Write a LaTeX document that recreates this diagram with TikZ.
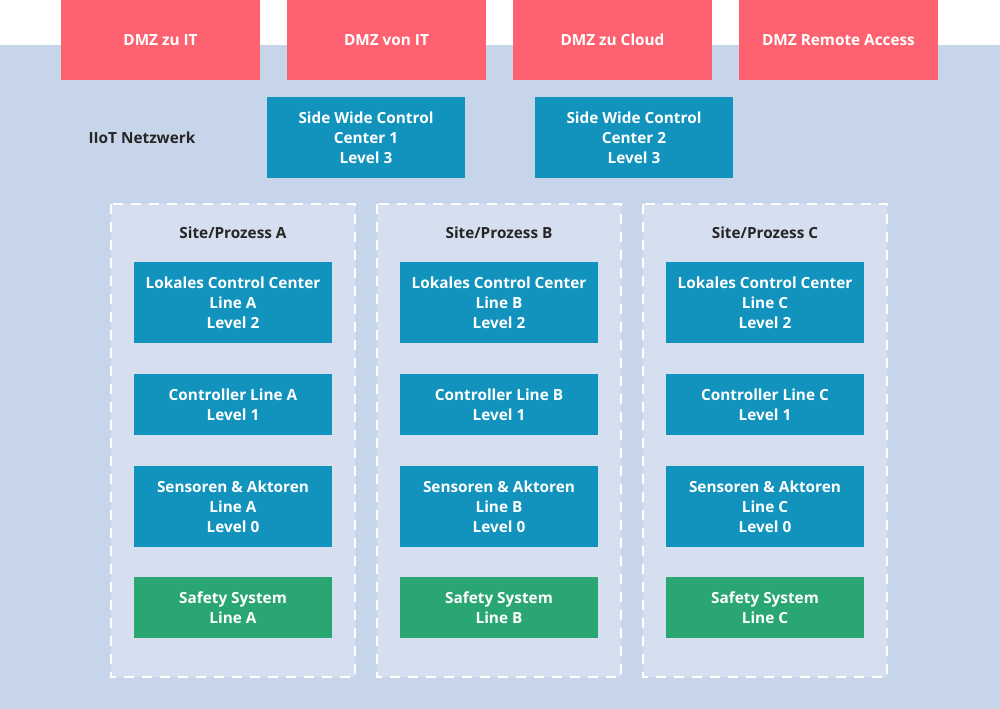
\documentclass[tikz,border=0pt]{standalone}
\usepackage{fontspec}
\setmainfont{Open Sans}
\definecolor{dmzred}{HTML}{FE6270}
\definecolor{boxblue}{HTML}{1193BE}
\definecolor{safegreen}{HTML}{2AA673}
\definecolor{netbg}{HTML}{C7D5EA}
\definecolor{sitebg}{HTML}{D5DFF0}
\tikzset{
  dmz/.style={fill=dmzred,text=white,font=\bfseries\fontsize{11.5}{14}\selectfont,align=center},
  unit/.style={fill=boxblue,text=white,font=\bfseries\fontsize{11.5}{15}\selectfont,align=center},
  safety/.style={fill=safegreen,text=white,font=\bfseries\fontsize{11.5}{15}\selectfont,align=center},
  sitebox/.style={fill=sitebg,draw=white,line width=2.2pt,dash pattern=on 7.5pt off 6pt},
  title/.style={text=black!85,font=\bfseries\fontsize{11.5}{14}\selectfont}
}
\begin{document}
\begin{tikzpicture}[x=0.75pt,y=-0.75pt]
  \useasboundingbox (0,0) rectangle (1000,709);
  \fill[white] (0,0) rectangle (1000,709);
  \fill[netbg] (0,45) rectangle (1000,709);
  % DMZ
  \fill[dmzred] (61,0) rectangle (260,80);   \node[dmz] (dmzit) at (160.5,40) {DMZ zu IT};
  \fill[dmzred] (287,0) rectangle (486,80);  \node[dmz] (dmzvon) at (386.5,40) {DMZ von IT};
  \fill[dmzred] (513,0) rectangle (712,80);  \node[dmz] (dmzcloud) at (612.5,40) {DMZ zu Cloud};
  \fill[dmzred] (739,0) rectangle (938,80);  \node[dmz] (dmzremote) at (838.5,40) {DMZ Remote Access};
  % IIoT
  \node[title] (iiot) at (142,138) {IIoT Netzwerk};
  \fill[boxblue] (267,97) rectangle (465,178);
  \node[unit] (swcc1) at (366,137.5) {Side Wide Control\\Center 1\\Level 3};
  \fill[boxblue] (535,97) rectangle (733,178);
  \node[unit] (swcc2) at (634,137.5) {Side Wide Control\\Center 2\\Level 3};
  % sites
  \foreach \L/\x in {A/111,B/377,C/643}{
    \draw[sitebox] (\x,204) rectangle ({\x+244},677);
    \node[title] (site\L) at ({\x+122},233) {Site/Prozess \L};
    \fill[boxblue] ({\x+23},262) rectangle ({\x+221},343);
    \node[unit] (lcc\L) at ({\x+122},302.5) {Lokales Control Center\\Line \L\\Level 2};
    \fill[boxblue] ({\x+23},374) rectangle ({\x+221},435);
    \node[unit] (ctrl\L) at ({\x+122},404.5) {Controller Line \L\\Level 1};
    \fill[boxblue] ({\x+23},466) rectangle ({\x+221},547);
    \node[unit] (sens\L) at ({\x+122},506.5) {Sensoren \& Aktoren\\Line \L\\Level 0};
    \fill[safegreen] ({\x+23},577) rectangle ({\x+221},638);
    \node[safety] (safe\L) at ({\x+122},607.5) {Safety System\\Line \L};
  }
\end{tikzpicture}
\end{document}
